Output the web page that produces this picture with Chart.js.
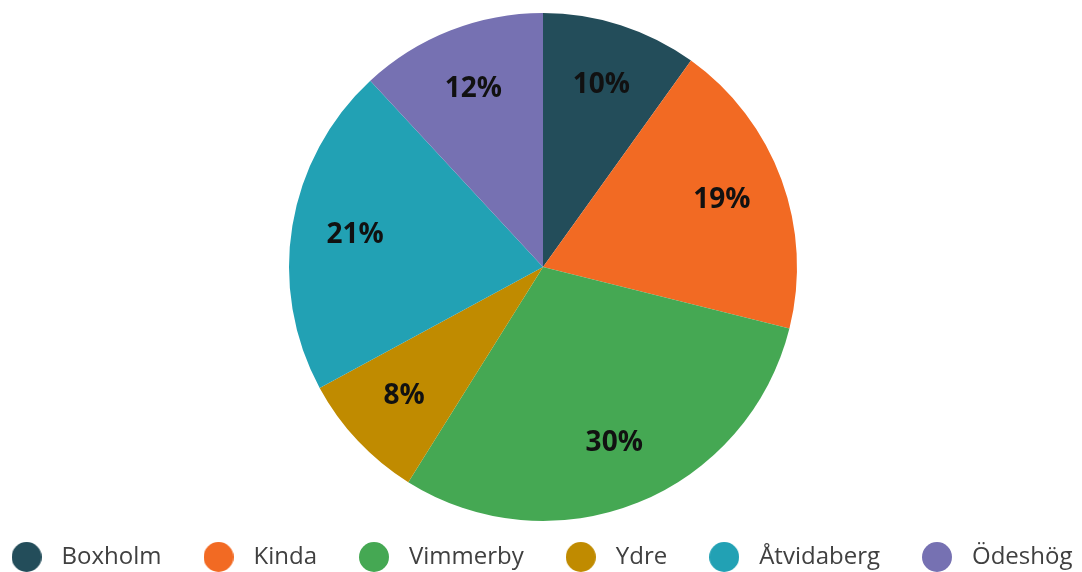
<!DOCTYPE html>
<html>
<head>
<meta charset="utf-8">
<script src="https://cdn.jsdelivr.net/npm/chart.js@4"></script>
<style>
  body { margin: 0; background: #fff; }
  #wrap { width: 1082px; height: 572px; position: relative; }
</style>
</head>
<body>
<div id="wrap"><canvas id="pieChart"></canvas></div>
<script>
const labels = ['Boxholm', 'Kinda', 'Vimmerby', 'Ydre', 'Åtvidaberg', 'Ödeshög'];
const shares = [9.9, 19.0, 30.0, 8.2, 21.0, 11.9];
const colors = ['#234d5a', '#f26a23', '#45a853', '#c08b00', '#22a1b4', '#7671b2'];

// round legend markers, drawn as little canvases so they can be sized freely
const makeDot = (color) => {
  const c = document.createElement('canvas');
  c.width = 30;
  c.height = 30;
  const ctx = c.getContext('2d');
  ctx.fillStyle = color;
  ctx.beginPath();
  ctx.arc(15, 15, 15, 0, Math.PI * 2);
  ctx.fill();
  return c;
};
const dots = colors.map(makeDot);

const percentLabels = {
  id: 'percentLabels',
  beforeDatasetsDraw(chart) {
    // chart area is clamped to the canvas, nudge the pie a little right
    chart.ctx.save();
    chart.ctx.translate(2, 0);
  },
  afterDatasetsDraw(chart) {
    const { ctx } = chart;
    const meta = chart.getDatasetMeta(0);
    const total = shares.reduce((a, b) => a + b, 0);
    ctx.font = 'bold 28px "Open Sans"';
    ctx.fillStyle = '#111';
    ctx.textAlign = 'center';
    ctx.textBaseline = 'middle';
    meta.data.forEach((arc, i) => {
      const { x, y, startAngle, endAngle, outerRadius } = arc.getProps(['x', 'y', 'startAngle', 'endAngle', 'outerRadius']);
      const mid = (startAngle + endAngle) / 2;
      const d = outerRadius * 0.75;
      ctx.fillText(Math.round(shares[i] / total * 100) + '%', x + Math.cos(mid) * d, y + Math.sin(mid) * d - 1);
    });
    ctx.restore();
  }
};

new Chart(document.getElementById('pieChart'), {
  type: 'pie',
  data: {
    labels,
    datasets: [{
      data: shares,
      backgroundColor: colors,
      borderWidth: 0,
      radius: 254,
    }],
  },
  options: {
    responsive: true,
    maintainAspectRatio: false,
    animation: false,
    // negative sides give the legend row enough room for the wide gaps
    layout: { padding: { top: 23, bottom: -7, left: -32, right: -26 } },
    plugins: {
      tooltip: { enabled: false },
      legend: {
        position: 'bottom',
        labels: {
          usePointStyle: true,
          pointStyleWidth: 46,
          padding: 34,
          color: '#404040',
          font: { family: '"Open Sans"', size: 24 },
          generateLabels(chart) {
            const items = Chart.overrides.pie.plugins.legend.labels.generateLabels(chart);
            items.forEach((item, i) => { item.pointStyle = dots[i]; });
            return items;
          },
        },
      },
    },
  },
  plugins: [percentLabels],
});
</script>
</body>
</html>
